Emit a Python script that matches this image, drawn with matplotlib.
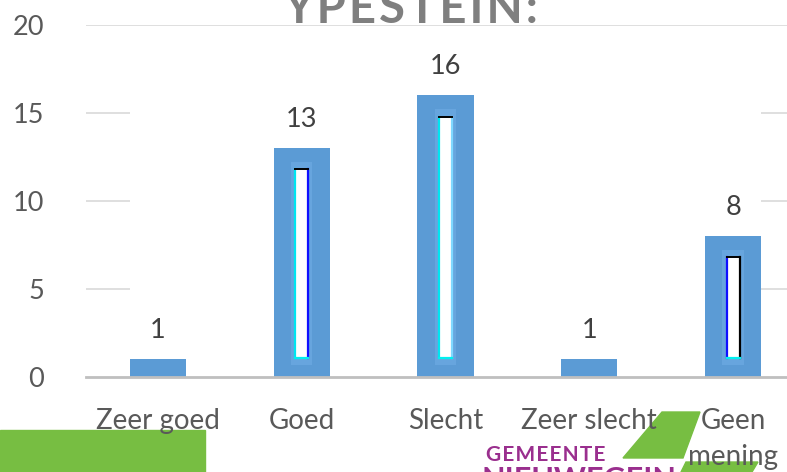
import matplotlib.pyplot as plt
from matplotlib.patches import Polygon, Rectangle

categories = ["Zeer goed", "Goed", "Slecht", "Zeer slecht", "Geen\nmening"]
values = [1, 13, 16, 1, 8]
yticks = [0, 5, 10, 15, 20]

plt.rcParams['font.family'] = ['Lato', 'DejaVu Sans']

W, H = 787, 472
fig = plt.figure(figsize=(W / 100, H / 100), dpi=100, facecolor='white')


def px(x, y):
    # pixel (from top-left) -> figure fraction
    return (x / W, 1 - y / H)


ax = fig.add_axes([86 / W, 1 - 377 / H, (805 - 86) / W, (377 - 25) / H])
ax.set_facecolor('none')

bw = 0.39
xs = list(range(len(categories)))
ax.bar(xs, values, width=bw, color='#5B9BD5', zorder=3)

# odd inner highlight seen in the taller bars
edge_styles = [None, ('#00E5F0', '#1010FF'), ('#00E5F0', '#7FD8FF'), None, ('#1010FF', '#000000')]
for x, v, st in zip(xs, values, edge_styles):
    if st is None:
        continue
    ax.add_patch(Rectangle((x - 0.075, 0.7), 0.15, v - 1.5, color='#67A5DE', zorder=4, lw=0))
    ax.add_patch(Rectangle((x - 0.045, 1.1), 0.09, v - 2.3, facecolor='white', lw=0, zorder=5))
    ax.plot([x - 0.045, x - 0.045], [1.1, v - 1.2], color=st[0], lw=1.6, zorder=6)
    ax.plot([x + 0.045, x + 0.045], [1.1, v - 1.2], color=st[1], lw=1.6, zorder=6)
    ax.plot([x - 0.045, x + 0.045], [v - 1.2, v - 1.2], color='black', lw=1.4, zorder=6)
    ax.plot([x - 0.045, x + 0.045], [1.1, 1.1], color='#00F0F0', lw=1.6, zorder=6)

for x, v in zip(xs, values):
    ax.text(x, v + 1.65, str(v), ha='center', va='center', fontsize=19.5, color='#404040')

ax.set_xlim(-0.5, 4.5)
ax.set_ylim(0, 20)

# gridlines only visible at the sides
for t in yticks[1:]:
    if t == 20:
        ax.hlines(t, -0.5, 4.5, color='#D9D9D9', lw=1.2, zorder=1)
    else:
        ax.hlines(t, -0.5, -bw / 2, color='#D9D9D9', lw=1.2, zorder=1)
        ax.hlines(t, 4 + bw / 2, 4.5, color='#D9D9D9', lw=1.2, zorder=1)

for s in ['top', 'right', 'left']:
    ax.spines[s].set_visible(False)
ax.spines['bottom'].set_color('#BFBFBF')
ax.spines['bottom'].set_linewidth(2)
ax.spines['bottom'].set_zorder(7)

ax.set_xticks(xs)
ax.set_xticklabels(categories, fontsize=20, color='#595959', linespacing=1.5)
ax.set_yticks(yticks)
ax.set_yticklabels([str(t) for t in yticks], fontsize=19.5, color='#595959')
ax.tick_params(axis='both', length=0)
ax.tick_params(axis='y', pad=30)
ax.tick_params(axis='x', pad=22)
for lbl in ax.get_xticklabels():
    lbl.set_verticalalignment('top')
    lbl.set_zorder(10)

# title, cut off at the top
fig.text(*px(411, 23), "\u200a".join("YPESTEIN:"), ha='center', va='baseline', fontsize=34,
         fontweight='bold', color='#7F7F7F')

# logo pieces at the bottom
fig.add_artist(Polygon([px(0, 430), px(205, 430), px(205, 472), px(0, 472)],
                       closed=True, color='#77BE42', transform=fig.transFigure, zorder=-1))
fig.add_artist(Polygon([px(662, 412), px(700, 412), px(683, 458), px(623, 458)],
                       closed=True, color='#77BE42', transform=fig.transFigure, zorder=-1))
fig.add_artist(Polygon([px(686, 462), px(758, 462), px(752, 472), px(681, 472)],
                       closed=True, color='#77BE42', transform=fig.transFigure, zorder=-1))
fig.text(*px(546, 455), "\u200a".join("GEMEENTE"), ha='center', va='center', fontsize=15,
         fontweight='bold', color='#9A2F8E')
fig.text(*px(579, 489), "NIEUWEGEIN", ha='center', va='baseline', fontsize=22,
         fontweight='bold', color='#9A2F8E')

fig.savefig('out.png', dpi=100, facecolor='white')
